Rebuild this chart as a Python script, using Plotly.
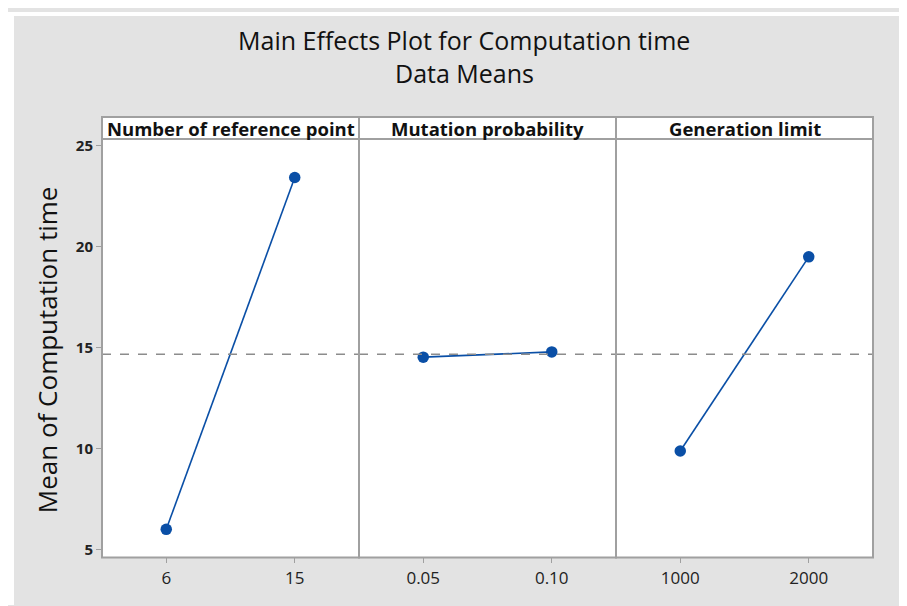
import plotly.graph_objects as go
from plotly.subplots import make_subplots

factors = ["Number of reference point", "Mutation probability", "Generation limit"]
levels = [["6", "15"], ["0.05", "0.10"], ["1000", "2000"]]
means = [[6.0, 23.43], [14.53, 14.79], [9.88, 19.50]]
grand_mean = 14.67
y_ticks = [5, 10, 15, 20, 25]

# the page body has an 8px margin; lay out in screen pixels minus that offset
OFF = 8
W, H = 907 - OFF, 606 - OFF
px_x = lambda v: (v - OFF) / W
px_y = lambda v: 1 - (v - OFF) / H

fig = make_subplots(rows=1, cols=3, shared_yaxes=True, horizontal_spacing=0)

blue = "#0a4fa6"
border = "#a0a0a0"
edges = [102, 359, 616, 873]
top_px, bot_px = 136, 558
strip_top = 114
FONT = "Open Sans"

for i in range(3):
    xs = list(range(len(levels[i])))
    fig.add_trace(go.Scatter(x=xs, y=means[i], mode="lines+markers",
                             line=dict(color=blue, width=1.6),
                             marker=dict(color=blue, size=11.5),
                             showlegend=False, hoverinfo="skip"), row=1, col=i + 1)
    ax = "xaxis" if i == 0 else f"xaxis{i+1}"
    ay = "yaxis" if i == 0 else f"yaxis{i+1}"
    fig.layout[ax].update(domain=[px_x(edges[i]), px_x(edges[i + 1])],
                          range=[-0.5, 1.5], tickvals=xs, ticktext=levels[i],
                          ticks="outside", ticklen=5, tickcolor=border, tickwidth=1,
                          showline=False, showgrid=False, zeroline=False,
                          tickfont=dict(family=FONT, size=17, color="#222"))
    fig.layout[ay].update(domain=[px_y(bot_px), px_y(top_px)],
                          range=[4.61, 25.34], tickvals=y_ticks,
                          showline=False, showgrid=False, zeroline=False,
                          ticks="outside" if i == 0 else "", ticklen=5,
                          tickcolor=border, showticklabels=(i == 0),
                          tickfont=dict(family=FONT, size=15, color="#222", weight="bold"))
    xr = "x" if i == 0 else f"x{i+1}"
    yr = "y" if i == 0 else f"y{i+1}"
    fig.add_shape(type="line", xref=f"{xr} domain", yref=yr, x0=0, x1=1,
                  y0=grand_mean, y1=grand_mean,
                  line=dict(color="#8c8c8c", width=1.6, dash="dash"), layer="above")
    # panel border
    fig.add_shape(type="rect", xref="paper", yref="paper",
                  x0=px_x(edges[i]), x1=px_x(edges[i + 1]),
                  y0=px_y(bot_px), y1=px_y(top_px),
                  line=dict(color=border, width=2), layer="above")
    # strip header
    fig.add_shape(type="rect", xref="paper", yref="paper",
                  x0=px_x(edges[i]), x1=px_x(edges[i + 1]),
                  y0=px_y(top_px), y1=px_y(strip_top),
                  fillcolor="white", line=dict(color=border, width=2))
    fig.add_annotation(x=(px_x(edges[i]) + px_x(edges[i + 1])) / 2,
                       y=(px_y(top_px) + px_y(strip_top)) / 2,
                       xref="paper", yref="paper", showarrow=False,
                       xanchor="center", yanchor="middle",
                       text=f"<b>{factors[i]}</b>",
                       font=dict(family=FONT, size=18.5, color="#111"))

# white margins outside the grey frame
fig.add_shape(type="rect", xref="paper", yref="paper", x0=0, x1=px_x(14), y0=0, y1=1,
              fillcolor="white", line=dict(width=0), layer="below")
fig.add_shape(type="rect", xref="paper", yref="paper", x0=0, x1=1, y0=px_y(12), y1=1,
              fillcolor="white", line=dict(width=0), layer="below")

fig.add_annotation(x=px_x(464), y=px_y(36), xref="paper", yref="paper", showarrow=False,
                   xanchor="center", yanchor="middle",
                   text="Main Effects Plot for Computation time",
                   font=dict(family=FONT, size=25, color="#111"))
fig.add_annotation(x=px_x(464), y=px_y(70), xref="paper", yref="paper", showarrow=False,
                   xanchor="center", yanchor="middle",
                   text="Data Means",
                   font=dict(family=FONT, size=25, color="#111"))
fig.add_annotation(x=px_x(47), y=px_y(349), xref="paper", yref="paper", showarrow=False,
                   xanchor="center", yanchor="middle",
                   text="Mean of Computation time", textangle=-90,
                   font=dict(family=FONT, size=26, color="#111"))

fig.update_layout(width=W, height=H, margin=dict(l=0, r=0, t=0, b=0),
                  paper_bgcolor="#e3e3e3", plot_bgcolor="white")

fig.write_html("out.html")
